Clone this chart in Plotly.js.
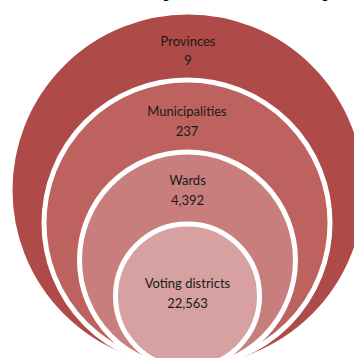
<!DOCTYPE html>
<html>
<head>
<meta charset="utf-8">
<script src="https://cdn.plot.ly/plotly-3.0.1.min.js"></script>
<style>html,body{margin:0;padding:0;background:#fff;}#chart{width:354px;height:358px;}</style>
</head>
<body>
<div id="chart"></div>
<script>
// Data
var levels = ["Provinces", "Municipalities", "Wards", "Voting districts"];
var counts = [9, 237, 4392, 22563];

// Styling / geometry (diagram layout, not data)
var fills = ["#AE4A47", "#BE625F", "#C97E7E", "#D7A1A1"];
var circleGeom = [
  {cx: 188, cy: 190, r: 178},
  {cx: 187, cy: 223, r: 143},
  {cx: 187.5, cy: 260, r: 108},
  {cx: 187.5, cy: 296, r: 72}
];
var labelY = [[43, 62], [113, 133], [182, 202], [285, 305]];

var shapes = levels.map(function(l, i) {
  var g = circleGeom[i];
  return {
    type: "circle", xref: "x", yref: "y",
    x0: g.cx - g.r, x1: g.cx + g.r, y0: g.cy - g.r, y1: g.cy + g.r,
    fillcolor: fills[i], line: {color: "#ffffff", width: 5}, layer: "below"
  };
});

var fmt = function(v) { return v.toLocaleString("en-US"); };
var tx = [], ty = [], tt = [];
levels.forEach(function(l, i) {
  tx.push(circleGeom[i].cx); ty.push(labelY[i][0]); tt.push(l);
  tx.push(circleGeom[i].cx); ty.push(labelY[i][1]); tt.push(fmt(counts[i]));
});

var trace = {
  type: "scatter", mode: "text", x: tx, y: ty, text: tt,
  textposition: "middle center",
  textfont: {family: "Lato, 'Open Sans', sans-serif", size: 13, color: "#1a1a1a"},
  hoverinfo: "skip", showlegend: false
};

var layout = {
  width: 354, height: 358,
  margin: {l: 0, r: 0, t: 0, b: 0},
  paper_bgcolor: "#ffffff", plot_bgcolor: "#ffffff",
  xaxis: {range: [0, 354], visible: false, fixedrange: true},
  yaxis: {range: [358, 0], visible: false, fixedrange: true},
  shapes: shapes,
  annotations: [
    {xref: "paper", yref: "paper", x: 168 / 354, y: 1.029, text: "<b>y</b>", showarrow: false,
     font: {family: "DejaVu Sans", size: 20, color: "#000"}, yanchor: "middle", xanchor: "center"},
    {xref: "paper", yref: "paper", x: 327 / 354, y: 1.029, text: "<b>y</b>", showarrow: false,
     font: {family: "DejaVu Sans", size: 20, color: "#000"}, yanchor: "middle", xanchor: "center"}
  ],
  showlegend: false
};

Plotly.newPlot("chart", [trace], layout, {displayModeBar: false, staticPlot: true});
</script>
</body>
</html>
